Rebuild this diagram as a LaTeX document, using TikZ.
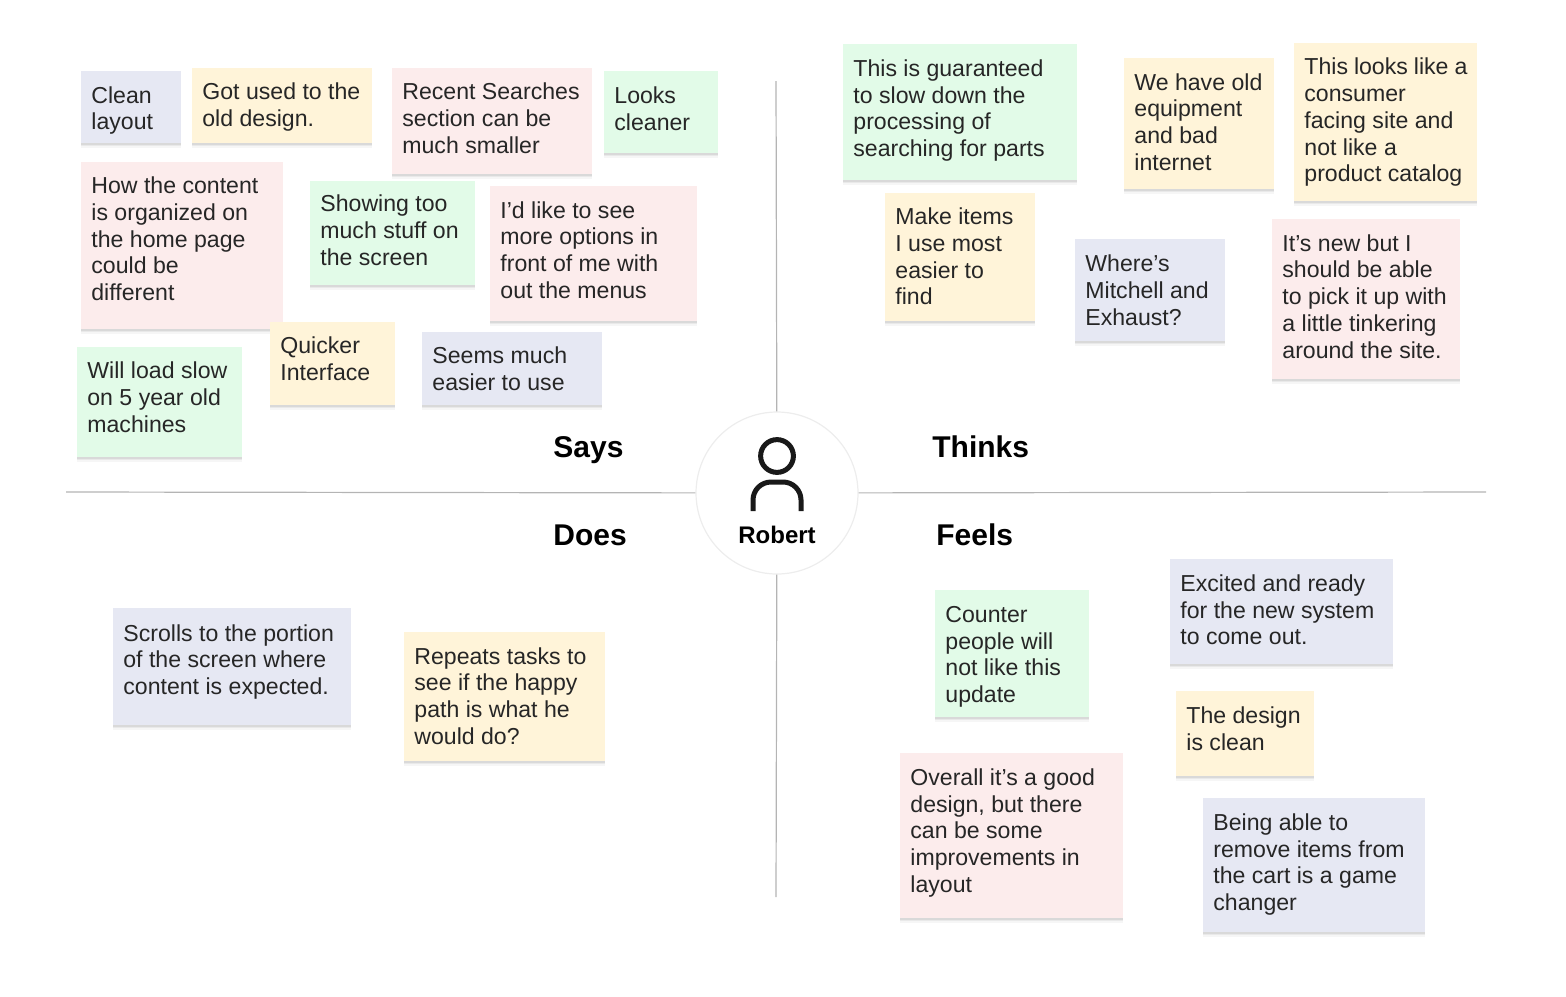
\documentclass[tikz,border=0pt]{standalone}
\usepackage{fontspec}
\usepackage{xcolor}
\setmainfont{Liberation Sans}
\usetikzlibrary{shadows}
\definecolor{noteblue}{HTML}{E6E8F3}
\definecolor{noteyellow}{HTML}{FFF4D9}
\definecolor{notepink}{HTML}{FCECEC}
\definecolor{notegreen}{HTML}{E2FBE8}
\definecolor{axisgray}{HTML}{B4B4B4}
\tikzset{
  note/.style n args={3}{anchor=north west, fill=#1, text=black!85,
    text width=#2*0.5pt-10pt, minimum height=#3*0.5pt,
    inner xsep=5pt, inner ysep=0pt, align=flush left,
    font=\fontsize{11.55}{13.35}\selectfont,
    drop shadow={shadow xshift=0pt, shadow yshift=-2.2pt, opacity=.035, fill=black},
    drop shadow={shadow xshift=0pt, shadow yshift=-1.5pt, opacity=.05, fill=black},
    drop shadow={shadow xshift=0pt, shadow yshift=-0.8pt, opacity=.07, fill=black}},
  nudge/.style={execute at end node={\par\vspace*{#1pt}}},
  quadrant/.style={font=\fontsize{15}{17}\selectfont\bfseries, anchor=base west, inner sep=0pt},
  axis/.style={draw=axisgray, line width=0.6pt}
}
\begin{document}
\begin{tikzpicture}[x=0.5pt, y=-0.5pt]
    \useasboundingbox (0, 0) rectangle (1566, 996);

    \coordinate (axisW) at (66, 492);
    \coordinate (axisE) at (1486, 492);
    \coordinate (axisN) at (776, 81);
    \coordinate (axisS) at (776, 897);

    \node[circle, draw=black!7, fill=white, line width=0.6pt, minimum size=81pt, inner sep=0pt] (hub) at (777, 493) {};

    \draw[axis] (axisW) -- (hub);
    \draw[axis] (axisE) -- (hub);
    \draw[axis] (axisN) -- (hub);
    \draw[axis] (axisS) -- (hub);

    % person
    \draw[line width=2.5pt, black!90] (777, 456) circle (8.2pt);
    \draw[line width=2.5pt, black!90] (753, 511) -- (753, 500) arc[start angle=180, end angle=90, radius=9pt] -- (783, 482) arc[start angle=90, end angle=0, radius=9pt] -- (801, 511);
    \node[font=\fontsize{12}{14}\selectfont\bfseries] (person) at (777, 535) {Robert};

    \node[quadrant] (says) at (553, 457) {Says};
    \node[quadrant] (thinks) at (932, 457) {Thinks};
    \node[quadrant] (does) at (553, 545) {Does};
    \node[quadrant] (feels) at (936, 545) {Feels};

    % says
    \node[note={noteblue}{100}{72}, nudge=-3] (clean) at (81, 71) {Clean\\layout};
    \node[note={noteyellow}{180}{75}, nudge=-1] (used) at (192, 68) {Got used to the\\old design.};
    \node[note={notepink}{200}{106}, nudge=3] (recent) at (392, 68) {Recent Searches\\section can be\\much smaller};
    \node[note={notegreen}{114}{82}, nudge=4] (cleaner) at (604, 71) {Looks\\cleaner};
    \node[note={notepink}{202}{167}, nudge=7] (content) at (81, 162) {How the content\\is organized on\\the home page\\could be\\different};
    \node[note={notegreen}{165}{104}, nudge=3] (stuff) at (310, 181) {Showing too\\much stuff on\\the screen};
    \node[note={notepink}{207}{135}, nudge=4] (options) at (490, 186) {I'd like to see\\more options in\\front of me with\\out the menus};
    \node[note={noteyellow}{125}{83}, nudge=5] (quicker) at (270, 322) {Quicker\\Interface};
    \node[note={noteblue}{180}{73}] (easier) at (422, 332) {Seems much\\easier to use};
    \node[note={notegreen}{165}{110}, nudge=5] (slow) at (77, 347) {Will load slow\\on 5 year old\\machines};

    % thinks
    \node[note={notegreen}{234}{136}, nudge=2] (guaranteed) at (843, 44) {This is guaranteed\\to slow down the\\processing of\\searching for parts};
    \node[note={noteyellow}{150}{131}, nudge=2] (equipment) at (1124, 58) {We have old\\equipment\\and bad\\internet};
    \node[note={noteyellow}{183}{158}] (consumer) at (1294, 43) {This looks like a\\consumer\\facing site and\\not like a\\product catalog};
    \node[note={noteyellow}{150}{128}, nudge=1] (items) at (885, 193) {Make items\\I use most\\easier to\\find};
    \node[note={noteblue}{150}{102}] (mitchell) at (1075, 239) {Where's\\Mitchell and\\Exhaust?};
    \node[note={notepink}{188}{160}, nudge=3] (tinkering) at (1272, 219) {It's new but I\\should be able\\to pick it up with\\a little tinkering\\around the site.};

    % does
    \node[note={noteblue}{238}{117}, nudge=5] (scrolls) at (113, 608) {Scrolls to the portion\\of the screen where\\content is expected.};
    \node[note={noteyellow}{201}{129}, nudge=1] (repeats) at (404, 632) {Repeats tasks to\\see if the happy\\path is what he\\would do?};

    % feels
    \node[note={notegreen}{154}{127}, nudge=-3] (counter) at (935, 590) {Counter\\people will\\not like this\\update};
    \node[note={noteblue}{223}{105}, nudge=2] (excited) at (1170, 559) {Excited and ready\\for the new system\\to come out.};
    \node[note={noteyellow}{138}{85}, nudge=5] (design) at (1176, 691) {The design\\is clean};
    \node[note={notepink}{223}{165}, nudge=3] (overall) at (900, 753) {Overall it's a good\\design, but there\\can be some\\improvements in\\layout};
    \node[note={noteblue}{222}{134}, nudge=1] (cart) at (1203, 798) {Being able to\\remove items from\\the cart is a game\\changer};
\end{tikzpicture}
\end{document}
